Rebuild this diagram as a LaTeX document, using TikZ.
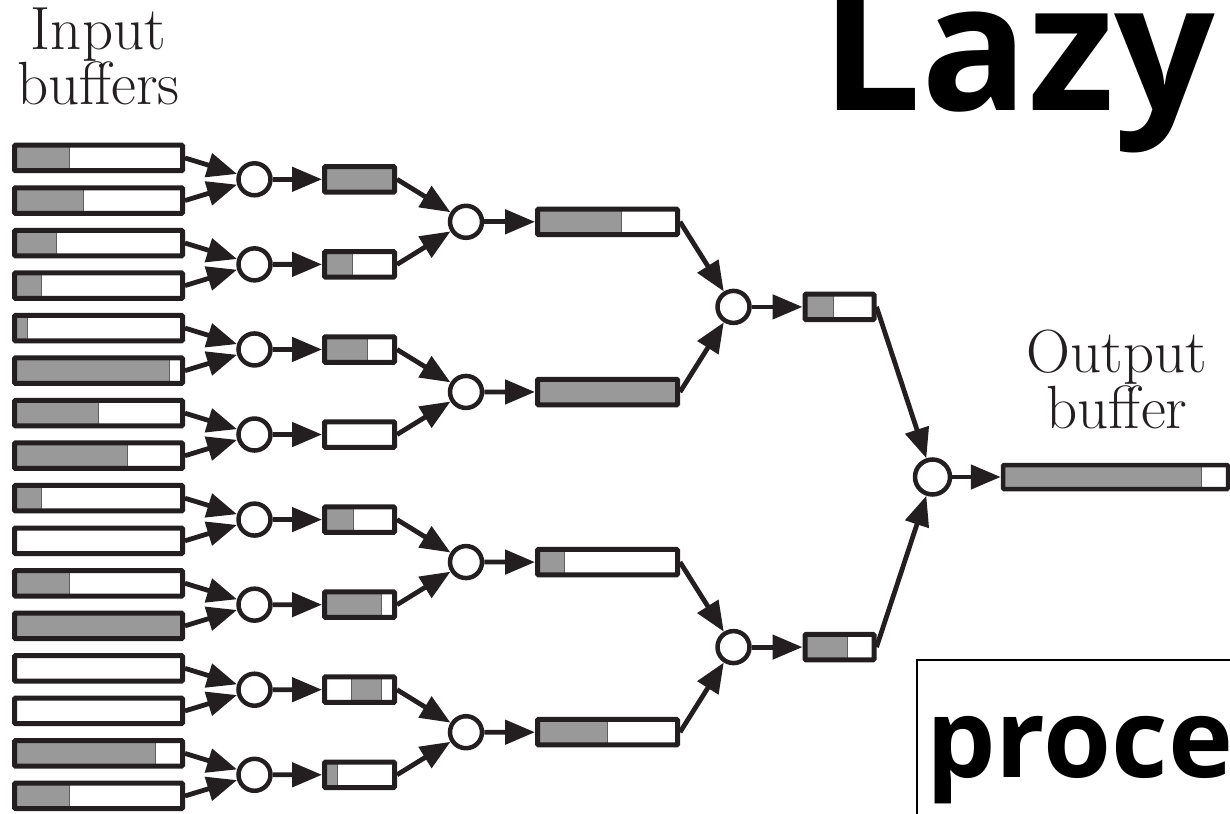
\documentclass[tikz,border=0pt]{standalone}
\usepackage{fontspec}
\usetikzlibrary{arrows.meta,calc}
\newfontfamily\headfont{Open Sans}

\definecolor{ink}{RGB}{35,31,32}
\definecolor{level}{RGB}{153,153,153}
\definecolor{edge}{RGB}{95,95,95}

\tikzset{
  buffer/.style={rectangle, draw=ink, fill=white, line width=5pt, inner sep=0pt,
    minimum height=25.5pt, rounded corners=1pt},
  inbuf/.style={buffer, minimum width=168pt},
  smallbuf/.style={buffer, minimum width=70pt},
  midbuf/.style={buffer, minimum width=140pt},
  outbuf/.style={buffer, minimum width=225pt, line width=4.5pt, minimum height=24pt},
  % filled share of a buffer, from fraction #1 to fraction #2 of its width
  gauge/.style 2 args={path picture={
    \fill[level]
      ($(path picture bounding box.south west)!#1!(path picture bounding box.south east)$)
      rectangle
      ($(path picture bounding box.north west)!#2!(path picture bounding box.north east)$);
    \foreach \g in {#1,#2}{
      \draw[edge, line width=1pt]
        ($(path picture bounding box.south west)!\g!(path picture bounding box.south east)$)
        -- ($(path picture bounding box.north west)!\g!(path picture bounding box.north east)$);
    }
  }},
  merger/.style={circle, draw=ink, fill=white, line width=4.5pt, inner sep=0pt,
    minimum size=32pt},
  flow/.style={draw=ink, line width=4.8pt,
    -{Triangle[length=30pt,width=24pt]}},
  serif label/.style={inner sep=0pt, anchor=base, text=ink,
    font=\fontsize{61}{61}\selectfont},
}

\begin{document}
\begin{tikzpicture}[x=1pt, y=-1pt]
  \useasboundingbox (0,0) rectangle (1230,813);
  \clip (0,0) rectangle (1230,813);

  % input buffers, top to bottom
  \foreach \f [count=\i] in {0.33,0.41,0.25,0.16,0.08,0.92,0.50,0.67,
                             0.16,0,0.33,1,0,0,0.84,0.33}{
    \node[inbuf, gauge={0}{\f}] (in\i) at (98.5,{158+(\i-1)*42.53}) {};
  }

  % first merge level
  \foreach \k in {1,...,8}{
    \node[merger] (a\k) at (254.5,{179.3+(\k-1)*85.07}) {};
  }
  \node[smallbuf, gauge={0}{1}]    (p1) at (359.5,179.3) {};
  \node[smallbuf, gauge={0}{0.40}] (p2) at (359.5,264.4) {};
  \node[smallbuf, gauge={0}{0.61}] (p3) at (359.5,349.5) {};
  \node[smallbuf]                  (p4) at (359.5,434.5) {};
  \node[smallbuf, gauge={0}{0.41}] (p5) at (359.5,519.6) {};
  \node[smallbuf, gauge={0}{0.82}] (p6) at (359.5,604.7) {};
  \node[smallbuf, gauge={0.39}{0.81}] (p7) at (359.5,689.7) {};
  \node[smallbuf, gauge={0}{0.19}] (p8) at (359.5,774.8) {};

  % second merge level
  \foreach \k in {1,...,4}{
    \node[merger] (b\k) at (466,{221.8+(\k-1)*170.14}) {};
  }
  \node[midbuf, gauge={0}{0.60}] (q1) at (607.5,221.8) {};
  \node[midbuf, gauge={0}{1}]    (q2) at (607.5,392.0) {};
  \node[midbuf, gauge={0}{0.19}] (q3) at (607.5,562.1) {};
  \node[midbuf, gauge={0}{0.50}] (q4) at (607.5,732.2) {};

  % third merge level
  \node[merger] (c1) at (733.5,306.9) {};
  \node[merger] (c2) at (733.5,647.1) {};
  \node[smallbuf, minimum width=69pt, gauge={0}{0.41}] (r1) at (839.5,306.9) {};
  \node[smallbuf, minimum width=69pt, gauge={0}{0.62}] (r2) at (839.5,647.1) {};

  % final merger and output
  \node[merger, minimum size=35pt] (d1) at (932.5,477) {};
  \node[outbuf, gauge={0}{0.88}] (out) at (1115.5,477) {};

  % connectors
  \foreach \k [evaluate=\k as \u using int(2*\k-1), evaluate=\k as \l using int(2*\k)] in {1,...,8}{
    \draw[flow] (in\u.east) -- (a\k);
    \draw[flow] (in\l.east) -- (a\k);
    \draw[flow] (a\k) -- (p\k);
  }
  \foreach \k [evaluate=\k as \u using int(2*\k-1), evaluate=\k as \l using int(2*\k)] in {1,...,4}{
    \draw[flow] (p\u.east) -- (b\k);
    \draw[flow] (p\l.east) -- (b\k);
    \draw[flow] (b\k) -- (q\k);
  }
  \foreach \k [evaluate=\k as \u using int(2*\k-1), evaluate=\k as \l using int(2*\k)] in {1,2}{
    \draw[flow] (q\u.east) -- (c\k);
    \draw[flow] (q\l.east) -- (c\k);
    \draw[flow] (c\k) -- (r\k);
  }
  \draw[flow] (r1.east) -- (d1);
  \draw[flow] (r2.east) -- (d1);
  \draw[flow] (d1) -- (out);

  % labels
  \node[serif label] (inlabA) at (98.5,50) {Input};
  \node[serif label] (inlabB) at (98.5,105) {buffers};
  \node[serif label] (outlabA) at (1117,372) {Output};
  \node[serif label] (outlabB) at (1117,428) {buffer};

  % heading and framed caption
  \node[inner sep=0pt, anchor=base west, text=black,
        font=\headfont\bfseries\fontsize{177}{177}\selectfont] (title) at (821,111) {Lazy};
  \draw[black, line width=2.5pt] (917,660) rectangle (1300,900);
  \node[inner sep=0pt, anchor=base west, text=black,
        font=\headfont\bfseries\fontsize{110}{110}\selectfont] (caption) at (926,777) {proce};
\end{tikzpicture}
\end{document}
